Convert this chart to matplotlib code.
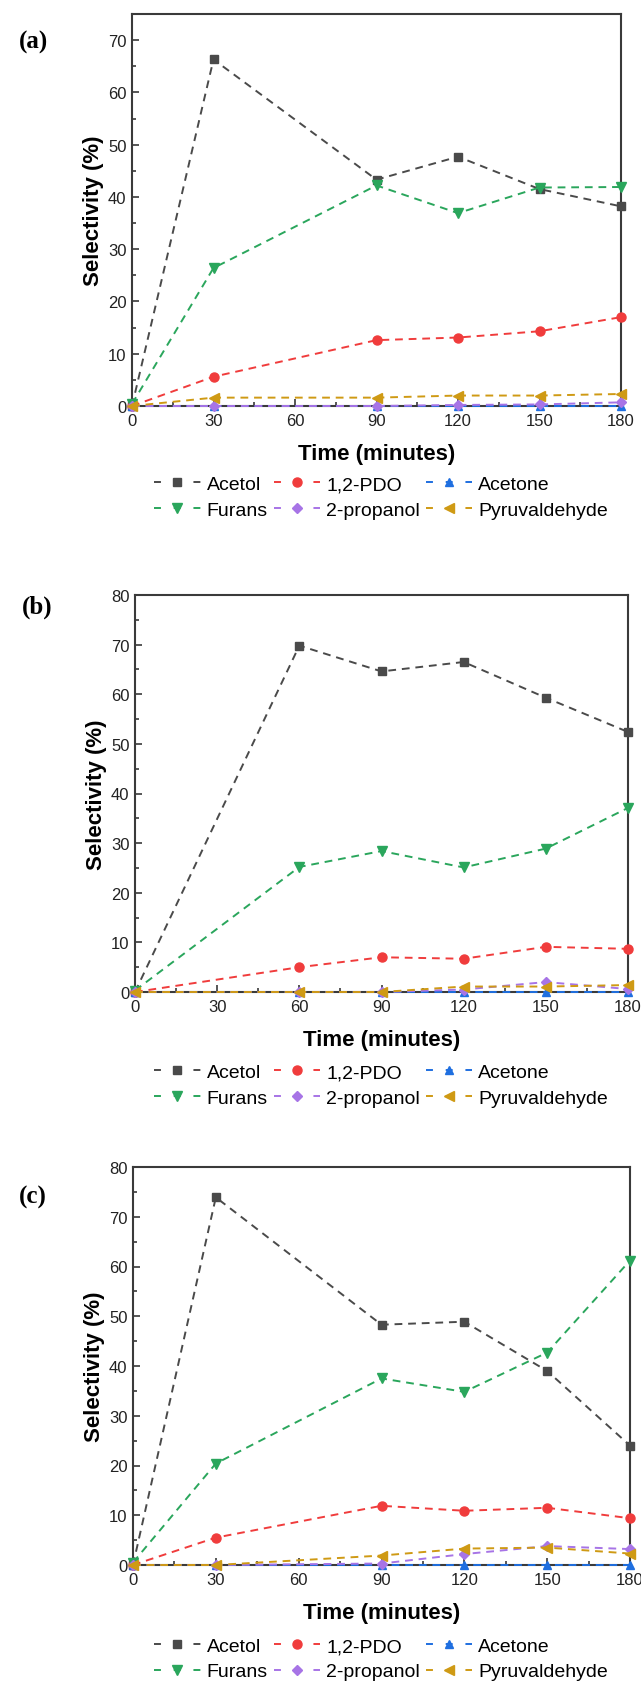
import numpy as np
import matplotlib.pyplot as plt
from matplotlib.lines import Line2D
from matplotlib.ticker import MultipleLocator

plt.rcParams['font.family'] = ['Liberation Sans', 'DejaVu Sans']

# Reaction time points (minutes) for each panel
time_a = [0, 30, 90, 120, 150, 180]
time_b = [0, 60, 90, 120, 150, 180]
time_c = [0, 30, 90, 120, 150, 180]

names = ["Acetol", "1,2-PDO", "Acetone", "Furans", "2-propanol", "Pyruvaldehyde"]

# Selectivity (%)
acetol_a = [0.0, 66.3, 43.3, 47.7, 41.5, 38.2]
pdo_a = [0.0, 5.6, 12.6, 13.1, 14.3, 17.0]
acetone_a = [0.0, 0.0, 0.0, 0.0, 0.0, 0.0]
furans_a = [0.4, 26.4, 42.2, 36.9, 41.8, 41.9]
propanol_a = [0.0, 0.0, 0.0, 0.2, 0.3, 0.7]
pyruv_a = [0.0, 1.6, 1.6, 2.0, 2.0, 2.3]

acetol_b = [0.0, 69.8, 64.6, 66.5, 59.3, 52.4]
pdo_b = [0.0, 5.0, 7.0, 6.7, 9.1, 8.7]
acetone_b = [0.0, 0.0, 0.0, 0.0, 0.0, 0.0]
furans_b = [0.3, 25.2, 28.4, 25.1, 28.9, 37.1]
propanol_b = [0.0, 0.0, 0.0, 0.5, 2.0, 0.6]
pyruv_b = [0.0, 0.0, 0.0, 1.1, 1.1, 1.4]

acetol_c = [0.0, 73.9, 48.3, 48.9, 39.0, 24.0]
pdo_c = [0.0, 5.5, 11.9, 10.9, 11.5, 9.4]
acetone_c = [0.0, 0.0, 0.0, 0.0, 0.0, 0.0]
furans_c = [0.5, 20.4, 37.5, 34.8, 42.7, 61.2]
propanol_c = [0.0, 0.0, 0.3, 2.2, 3.8, 3.2]
pyruv_c = [0.0, 0.0, 1.9, 3.3, 3.5, 2.3]

colors = ["#4a4a4a", "#f03c3c", "#1f6fe0", "#2aa65c", "#a774e6", "#cf9a14"]
markers = ["s", "o", "^", "v", "D", "<"]
msizes = [5.5, 6.5, 6, 6.5, 5, 6.5]

panels = [
    ("(a)", time_a, [acetol_a, pdo_a, acetone_a, furans_a, propanol_a, pyruv_a], 75),
    ("(b)", time_b, [acetol_b, pdo_b, acetone_b, furans_b, propanol_b, pyruv_b], 80),
    ("(c)", time_c, [acetol_c, pdo_c, acetone_c, furans_c, propanol_c, pyruv_c], 80),
]

W, H = 641, 1683
# axes boxes in pixels: left, top, right, bottom
boxes = [(132, 15, 621, 407), (135, 596, 628, 993), (133, 1168, 630, 1566)]
legend_y = [498, 1086, 1660]
label_pos = [(33, 42), (37, 607), (33, 1197)]

fig = plt.figure(figsize=(W / 100, H / 100), dpi=100)

# legend proxies: short dash - marker - short dash
proxies = [Line2D([], [], color=c, lw=1.4, ls=(0, (3.57, 6.57)), marker=m,
                  ms=ms, mec=c, mfc=c)
           for c, m, ms in zip(colors, markers, msizes)]

for (tag, t, series, ymax), (l, tp, r, b), ly, (lx, lyy) in zip(
        panels, boxes, legend_y, label_pos):
    ax = fig.add_axes([l / W, 1 - b / H, (r - l) / W, (b - tp) / H])
    for name, vals, c, m, ms in zip(names, series, colors, markers, msizes):
        ax.plot(t, vals, color=c, ls=(0, (4, 3)), lw=1.4, marker=m,
                ms=ms, mec=c, mfc=c, clip_on=False, zorder=3, label=name)

    ax.set_xlim(0, 180)
    ax.set_ylim(0, ymax)
    ax.xaxis.set_major_locator(MultipleLocator(30))
    ax.xaxis.set_minor_locator(MultipleLocator(15))
    ax.yaxis.set_major_locator(MultipleLocator(10))
    ax.yaxis.set_minor_locator(MultipleLocator(5))
    ax.tick_params(axis="both", which="both", direction="in", colors="#3a3a3a",
                   labelcolor="#222222", labelsize=12, width=1.2)
    ax.tick_params(which="major", length=5)
    ax.tick_params(axis="x", which="major", pad=5)
    ax.tick_params(axis="y", which="major", pad=4)
    ax.tick_params(which="minor", length=3)
    for sp in ax.spines.values():
        sp.set_linewidth(1.5)
        sp.set_color("#3a3a3a")
        sp.set_zorder(2)

    ax.set_xlabel("Time (minutes)", fontsize=16, fontweight="bold",
                  labelpad=11)
    ax.set_ylabel("Selectivity (%)", fontsize=16, fontweight="bold",
                  labelpad=3)

    # legend is filled column-wise, so reorder to get the two rows right
    order = [0, 3, 1, 4, 2, 5]
    ax.legend([proxies[i] for i in order], [names[i] for i in order],
              ncol=3, loc="center", bbox_to_anchor=(381 / W, 1 - ly / H),
              bbox_transform=fig.transFigure, frameon=False, fontsize=14,
              handlelength=2.4, handletextpad=0.3, columnspacing=0.3,
              labelspacing=0.4, borderpad=0)

    fig.text(lx / W, 1 - lyy / H, tag, fontsize=18, fontweight="bold",
             family="Liberation Serif", ha="center", va="center")

fig.savefig("out.png", dpi=100)
